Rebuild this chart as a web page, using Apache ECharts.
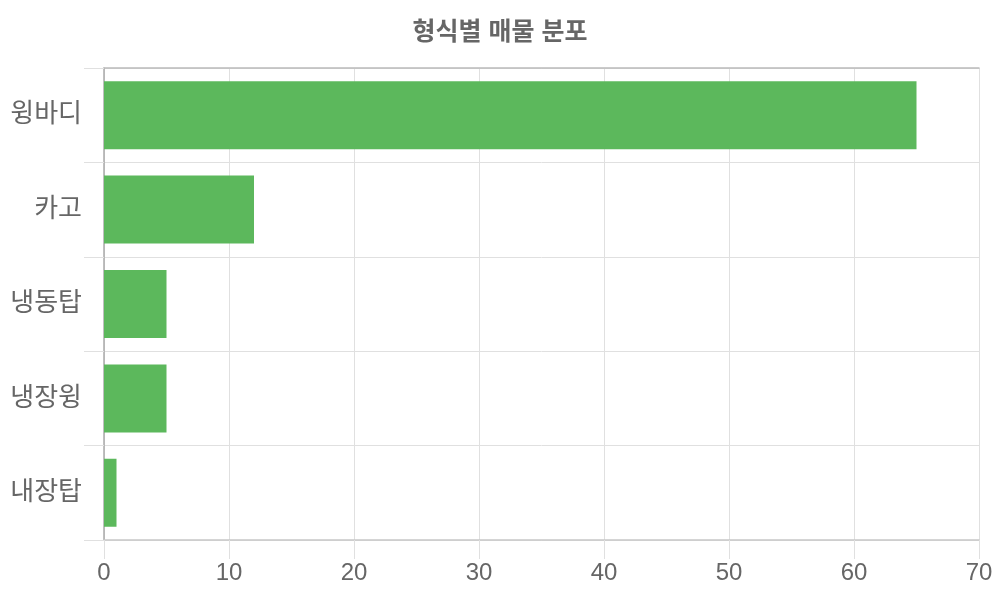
<!DOCTYPE html>
<html>
<head>
    <meta charset="utf-8">
    <title>형식별 매물 분포</title>
    <script src="https://cdnjs.cloudflare.com/ajax/libs/echarts/6.0.0/echarts.min.js"></script>
    <style>
        html, body { margin: 0; padding: 0; background: #fff; }
        #chart { width: 1000px; height: 600px; }
    </style>
</head>
<body>
    <div id="chart"></div>
    <script>
        const categories = ['윙바디', '카고', '냉동탑', '냉장윙', '내장탑'];
        const counts = [65, 12, 5, 5, 1];

        const fontFamily = '"Liberation Sans", "Noto Sans CJK KR", sans-serif';
        const chart = echarts.init(document.getElementById('chart'));

        chart.setOption({
            animation: false,
            title: {
                text: '형식별 매물 분포',
                left: 'center',
                top: 16,
                textStyle: { fontFamily: fontFamily, fontSize: 25, fontWeight: 'bold', color: '#666' }
            },
            grid: { left: 104, right: 21, top: 68, bottom: 60 },
            xAxis: [
                {
                    type: 'value',
                    min: 0,
                    max: 70,
                    interval: 10,
                    axisLine: { show: true, lineStyle: { color: '#c8c8c8', width: 1.5 } },
                    axisTick: { show: true, length: 19, lineStyle: { color: '#e0e0e0' } },
                    axisLabel: { margin: 21, fontFamily: fontFamily, fontSize: 24, color: '#666' },
                    splitLine: { show: true, lineStyle: { color: '#e0e0e0' } }
                },
                {
                    type: 'value',
                    position: 'top',
                    min: 0,
                    max: 70,
                    axisLine: { show: true, lineStyle: { color: '#bbb', width: 1.5 } },
                    axisTick: { show: false },
                    axisLabel: { show: false },
                    splitLine: { show: false }
                }
            ],
            yAxis: {
                type: 'category',
                data: categories,
                inverse: true,
                axisLine: { show: true, lineStyle: { color: '#aaa', width: 1.5 } },
                axisTick: { show: true, length: 20, alignWithLabel: false, lineStyle: { color: '#e0e0e0' } },
                axisLabel: { margin: 22, fontFamily: fontFamily, fontSize: 26, color: '#666', padding: [12, 0, 0, 0] },
                splitLine: { show: true, lineStyle: { color: '#e0e0e0' } }
            },
            series: [{
                type: 'bar',
                data: counts,
                barCategoryGap: '28%',
                itemStyle: { color: '#5cb85c' }
            }]
        });
    </script>
</body>
</html>
